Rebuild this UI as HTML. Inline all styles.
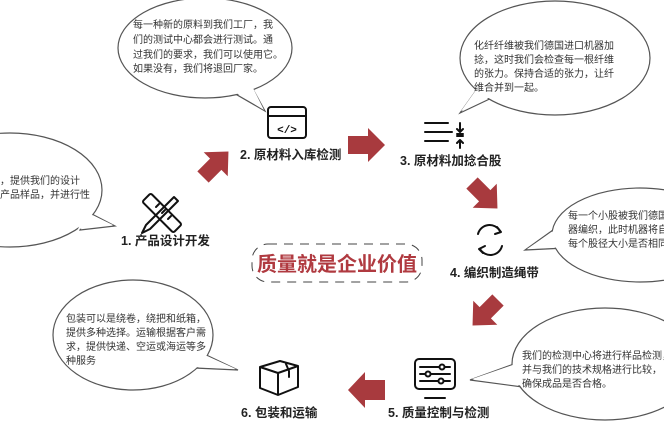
<!DOCTYPE html>
<html><head><meta charset="utf-8"><style>
html,body{margin:0;padding:0;background:#fff;width:664px;height:438px;overflow:hidden}
svg{display:block}
.b{font-family:"Liberation Sans","Noto Sans CJK SC",sans-serif;font-size:10px;fill:#333}
.l{font-family:"Liberation Sans","Noto Sans CJK SC",sans-serif;font-size:12.5px;font-weight:bold;fill:#222}
.bs{fill:#fff;stroke:#555;stroke-width:1.2}
.bf{fill:#fff;stroke:none}
.ar{fill:#a83a3e}
.ic{fill:none;stroke:#111;stroke-width:2;stroke-linecap:round;stroke-linejoin:round}
</style></head><body>
<svg width="664" height="438" viewBox="0 0 664 438" xmlns="http://www.w3.org/2000/svg">
<polygon class="bs" points="225,88 265,111 248,80"/>
<ellipse class="bs" cx="205" cy="48" rx="87" ry="50"/>
<polygon class="bf" points="225,86 264,110 248,78"/>
<polygon class="bs" points="480,85 460,113 498,95"/>
<ellipse class="bs" cx="555" cy="58" rx="95" ry="57"/>
<polygon class="bf" points="481,83 461,111 499,93"/>
<polygon class="bs" points="560,225 525,250 565,248"/>
<ellipse class="bs" cx="640" cy="235" rx="88" ry="47"/>
<polygon class="bf" points="562,225 527,249 567,247"/>
<polygon class="bs" points="525,360 470,380 530,388"/>
<ellipse class="bs" cx="605" cy="364" rx="93" ry="56"/>
<polygon class="bf" points="527,360 472,379 532,387"/>
<polygon class="bs" points="200,352 238,370 195,368"/>
<ellipse class="bs" cx="133" cy="335" rx="80" ry="55"/>
<polygon class="bf" points="198,352 236,369 193,367"/>
<polygon class="bs" points="88,212 115,226 80,230"/>
<ellipse class="bs" cx="10" cy="190" rx="92" ry="57"/>
<polygon class="bf" points="86,212 113,225 78,229"/>

<g class="b">
<text x="133" y="28">每一种新的原料到我们工厂，我</text>
<text x="133" y="43">们的测试中心都会进行测试。通</text>
<text x="133" y="58">过我们的要求，我们可以使用它。</text>
<text x="133" y="72">如果没有，我们将退回厂家。</text>
<text x="474" y="49">化纤纤维被我们德国进口机器加</text>
<text x="474" y="63">捻，这时我们会检查每一根纤维</text>
<text x="474" y="77">的张力。保持合适的张力，让纤</text>
<text x="474" y="91">维合并到一起。</text>
<text x="568" y="219">每一个小股被我们德国进口机</text>
<text x="568" y="233">器编织，此时机器将自动检测</text>
<text x="568" y="247">每个股径大小是否相同。</text>
<text x="522" y="359">我们的检测中心将进行样品检测，</text>
<text x="522" y="373">并与我们的技术规格进行比较，</text>
<text x="522" y="387">确保成品是否合格。</text>
<text x="66" y="322">包装可以是绕卷，绕把和纸箱，</text>
<text x="66" y="336">提供多种选择。运输根据客户需</text>
<text x="66" y="350">求，提供快递、空运或海运等多</text>
<text x="66" y="364">种服务</text>
<text x="-20" y="184">要求，提供我们的设计</text>
<text x="-20" y="198">案和产品样品，并进行性</text>
</g>

<g class="ar">
<polygon points="0,-8 18,-8 18,-17 36,0 18,17 18,8 0,8" transform="translate(203,177) rotate(-45)"/>
<polygon points="0,-9 20,-9 20,-17 37,0 20,17 20,9 0,9" transform="translate(348,145)"/>
<polygon points="0,-8 18,-8 18,-17 36,0 18,17 18,8 0,8" transform="translate(472,183) rotate(45)"/>
<polygon points="0,-8 18,-8 18,-17 36,0 18,17 18,8 0,8" transform="translate(498,300) rotate(135)"/>
<polygon points="0,-10 20,-10 20,-18 37,0 20,18 20,10 0,10" transform="translate(385,390) rotate(180)"/>
</g>

<g class="ic">
<g transform="translate(162,213)">
<rect x="-22" y="-6" width="44" height="12" rx="2" transform="rotate(45)"/>
<path d="M12,-16 L16,-12 L-12,16 L-20,20 L-16,12 Z" />
<path d="M-6,-6 l3,-3 M0,0 l3,-3 M6,6 l3,-3"/>
</g>
<rect x="268" y="107" width="38" height="31" rx="3"/>
<line x1="268" y1="116" x2="306" y2="116"/>
<text x="287" y="133" text-anchor="middle" style="font:bold 11px 'Liberation Mono',monospace;fill:#111;stroke:none">&lt;/&gt;</text>
<path d="M425,123 H448 M425,132 H452 M425,141 H448 M460,123 V132 M457,129 L460,132 L463,129 M457,134 H463 M457,136 H463 M460,140 V148 M457,143 L460,140 L463,143"/>
<path d="M478,234 A12,12 0 0 1 500,231 M502,246 A12,12 0 0 1 480,249"/>
<path d="M497,227 L501,232 L495,234 M483,253 L479,249 L485,246" />
<rect x="415" y="359" width="40" height="30" rx="4"/>
<path d="M420,367 H450 M420,374 H450 M420,381 H450 M425,398 H445"/>
<circle cx="442" cy="367" r="2.5" fill="#fff"/><circle cx="428" cy="374" r="2.5" fill="#fff"/><circle cx="441" cy="381" r="2.5" fill="#fff"/>
<path d="M260,367 L280,361 L298,366 L298,387 L278,395 L260,388 Z M260,367 L278,373 L298,366 M278,373 V395 M286,364 L289,371 V377"/>
</g>

<g class="l">
<text x="121" y="245">1. 产品设计开发</text>
<text x="240" y="159">2. 原材料入库检测</text>
<text x="400" y="165">3. 原材料加捻合股</text>
<text x="450" y="277">4. 编织制造绳带</text>
<text x="388" y="417">5. 质量控制与检测</text>
<text x="241" y="417">6. 包装和运输</text>
</g>

<rect x="252" y="244" width="170" height="38" rx="16" fill="none" stroke="#444" stroke-width="1" stroke-dasharray="9,7"/>
<text x="337" y="271" text-anchor="middle" style="font-family:'Liberation Sans','Noto Sans CJK SC',sans-serif;font-size:20px;font-weight:bold;fill:#b03a40">质量就是企业价值</text>
</svg>
</body></html>
